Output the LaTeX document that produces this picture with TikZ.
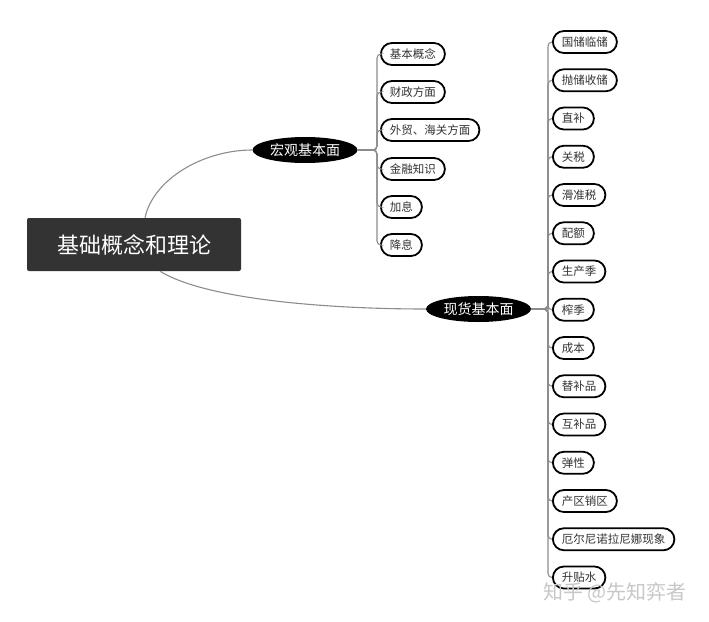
\documentclass[tikz,border=0pt]{standalone}
\usepackage{fontspec}
\setmainfont{Noto Sans CJK SC}
\usepackage{xcolor}
\usepackage{tikz}
\usetikzlibrary{shapes.geometric}

\definecolor{rootgray}{HTML}{333333}
\definecolor{linkgray}{HTML}{8C8C8C}

\begin{document}
\begin{tikzpicture}[
    x=1pt, y=-1pt,
    root/.style={rectangle, fill=rootgray, rounded corners=2pt, minimum width=214pt, minimum height=53pt, text=white, font=\fontsize{22}{22}\selectfont},
    head/.style={ellipse, fill=black, minimum width=105pt, minimum height=26pt, inner sep=0pt, text=white, font=\fontsize{14}{14}\selectfont},
    leaf/.style={rectangle, draw=black, line width=1.8pt, rounded corners=11pt, fill=white, minimum height=22pt, inner xsep=9pt, inner ysep=0pt, anchor=west, text=black!80, font=\fontsize{11.5}{11.5}\selectfont},
    link/.style={draw=linkgray, line width=1.1pt}
]
\useasboundingbox (0,0) rectangle (709,621);

\node[root] (root) at (134,244.5) {基础概念和理论};
\node[head] (macro) at (305,150) {宏观基本面};
\node[head] (spot) at (478.5,309) {现货基本面};

\coordinate (mhub) at (377,150);
\coordinate (shub) at (548,309);

% macro branch
\node[leaf] (m1) at (380,54) {基本概念};
\node[leaf] (m2) at (380,92) {财政方面};
\node[leaf] (m3) at (380,130) {外贸、海关方面};
\node[leaf] (m4) at (380,169) {金融知识};
\node[leaf] (m5) at (380,207) {加息};
\node[leaf] (m6) at (380,245) {降息};

% spot branch
\node[leaf] (s1) at (552,42) {国储临储};
\node[leaf] (s2) at (552,80.25) {抛储收储};
\node[leaf] (s3) at (552,118.5) {直补};
\node[leaf] (s4) at (552,156.75) {关税};
\node[leaf] (s5) at (552,195) {滑准税};
\node[leaf] (s6) at (552,233.25) {配额};
\node[leaf] (s7) at (552,271.5) {生产季};
\node[leaf] (s8) at (552,309.75) {榨季};
\node[leaf] (s9) at (552,348) {成本};
\node[leaf] (s10) at (552,386.25) {替补品};
\node[leaf] (s11) at (552,424.5) {互补品};
\node[leaf] (s12) at (552,462.75) {弹性};
\node[leaf] (s13) at (552,501) {产区销区};
\node[leaf] (s14) at (552,539.25) {厄尔尼诺拉尼娜现象};
\node[leaf] (s15) at (552,577.5) {升贴水};

\draw[link] ([xshift=11pt]root.north) .. controls +(8,-38) and +(-50,0) .. (macro.west);
\draw[link] ([xshift=26pt]root.south) .. controls +(45,28) and +(-100,0) .. (spot.west);

\foreach \n in {m1,m2,m3,m4,m5,m6}
    \draw[link, rounded corners=4pt] (macro.east) -- (mhub) |- (\n.west);
\foreach \n in {s1,s2,s3,s4,s5,s6,s7,s8,s9,s10,s11,s12,s13,s14,s15}
    \draw[link, rounded corners=4pt] (spot.east) -- (shub) |- (\n.west);

% watermark
\node[text=black!22, font=\fontsize{20}{20}\selectfont] (mark) at (615,593) {知乎 @先知弈者};
\end{tikzpicture}
\end{document}
